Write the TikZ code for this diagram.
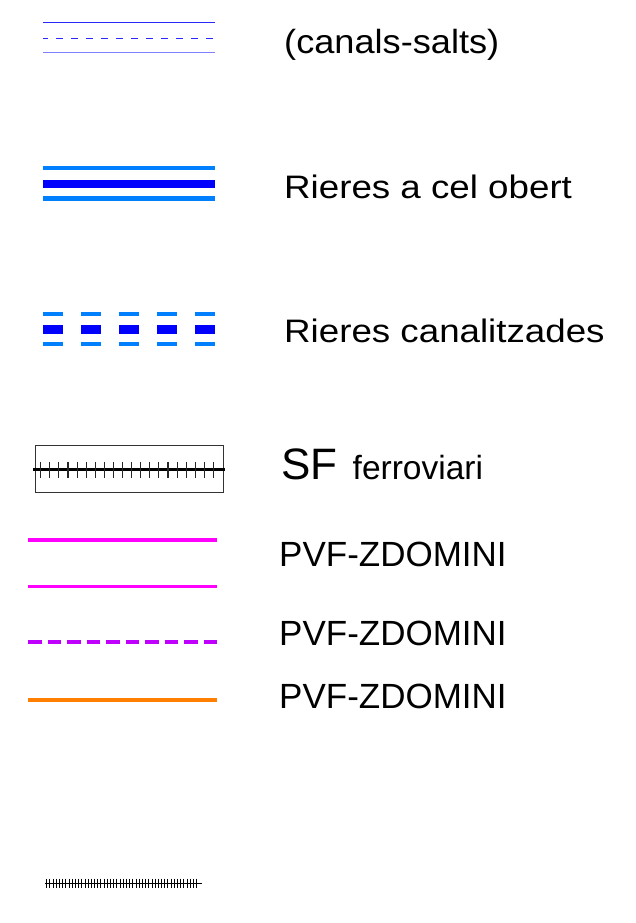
\documentclass[tikz,border=0pt]{standalone}
\usepackage{fontspec}
\setmainfont{Liberation Sans}
\newfontfamily\canalfont[FakeStretch=1.08]{Liberation Sans}
\newfontfamily\rierafont[FakeStretch=1.13]{Liberation Sans}
\usepackage{tikz}
\usetikzlibrary{calc}
\definecolor{canalblau}{RGB}{40,40,255}
\definecolor{canalclar}{RGB}{128,128,255}
\definecolor{rieraclar}{RGB}{0,128,255}
\definecolor{rierafosc}{RGB}{0,0,255}
\definecolor{pvfmagenta}{RGB}{255,0,255}
\definecolor{pvflila}{RGB}{191,0,255}
\definecolor{pvftaronja}{RGB}{255,128,0}

\begin{document}
\begin{tikzpicture}[x=1pt, y=-1pt,
  lbl/.style={anchor=base west, inner sep=0pt},
  riera/.style={line width=4.5pt, rieraclar},
  rierac/.style={line width=8.5pt, rierafosc},
  canalitzada/.style={dash pattern=on 20pt off 18pt},
  pvf/.style={line width=3.3pt}]
\useasboundingbox (0,0) rectangle (635,923);

% (canals-salts)
\draw[canalblau, line width=1pt] (43,22.3) -- (215,22.3);
\draw[canalblau, line width=1pt, dash pattern=on 6.7pt off 8.3pt, dash phase=1.7pt] (43,38.3) -- (215,38.3);
\draw[canalclar, line width=1.5pt] (43,52.7) -- (215,52.7);
\node[lbl, font=\canalfont\fontsize{33.5}{40}\selectfont] (canals) at (284,53.3) {(canals-salts)};

% rieres a cel obert
\draw[riera] (43,167.8) -- (215,167.8);
\draw[rierac] (43,183.8) -- (215,183.8);
\draw[riera] (43,198.5) -- (215,198.5);
\node[lbl, font=\rierafont\fontsize{32.5}{40}\selectfont] (obert) at (284,198.3) {Rieres a cel obert};

% rieres canalitzades
\draw[riera, canalitzada] (43,313.8) -- (215,313.8);
\draw[rierac, canalitzada] (43,329.7) -- (215,329.7);
\draw[riera, canalitzada] (43,344) -- (215,344);
\node[lbl, font=\rierafont\fontsize{32.5}{40}\selectfont] (canalitz) at (284,342.3) {Rieres canalitzades};

% ferrocarril
\draw[line width=0.8pt, black!80] (35,445) rectangle (223.3,492.3);
\draw[line width=2.5pt] (33,469.3) coordinate (sfa) -- (225,469.3) coordinate (sfb);
\foreach \i in {0,...,19}
  \draw[line width=1.1pt, black!85] (40.7+\i*9.09,461.5) -- ++(0,16);
\node[lbl, font=\fontsize{44}{50}\selectfont] (sf) at (281,479) {SF};
\node[lbl, font=\fontsize{33.5}{40}\selectfont] (ferro) at (352.5,479) {ferroviari};

% PVF
\draw[pvf, pvfmagenta] (28,540) -- (217,540);
\draw[pvf, pvfmagenta] (28,586.7) -- (217,586.7);
\draw[pvf, pvflila, dash pattern=on 13.5pt off 6pt] (28,642) -- (217,642);
\draw[pvf, pvftaronja] (28,700) -- (217,700);
\node[lbl, font=\fontsize{35}{40}\selectfont] (pvfa) at (279,566) {PVF-ZDOMINI};
\node[lbl, font=\fontsize{35}{40}\selectfont] (pvfb) at (279,645.7) {PVF-ZDOMINI};
\node[lbl, font=\fontsize{35}{40}\selectfont] (pvfc) at (279,708.3) {PVF-ZDOMINI};

% via petita
\draw[line width=1pt] (45,883) -- (201.7,883);
\foreach \i in {0,...,47}
  \draw[line width=0.9pt] (46.7+\i*3.19,878.5) -- ++(0,9);
\end{tikzpicture}
\end{document}
